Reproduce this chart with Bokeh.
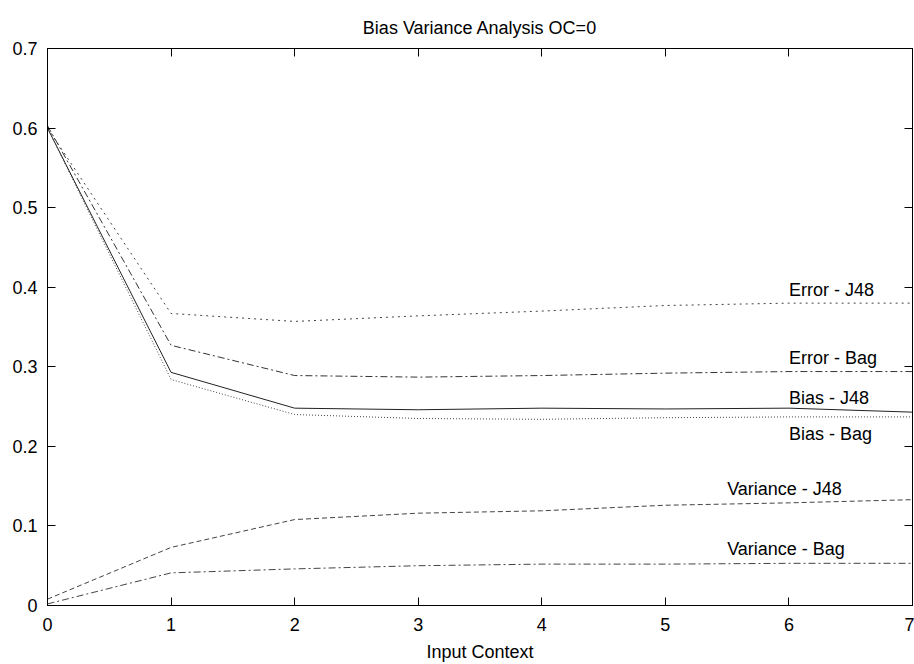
from bokeh.plotting import figure
from bokeh.models import Range1d, LinearAxis, FixedTicker, ColumnDataSource
from bokeh.embed import file_html
from bokeh.resources import INLINE
from bokeh.core.properties import value

# ---- data ----
input_context = [0, 1, 2, 3, 4, 5, 6, 7]
error_j48 = [0.600, 0.367, 0.357, 0.364, 0.370, 0.377, 0.380, 0.380]
error_bag = [0.603, 0.327, 0.289, 0.287, 0.289, 0.292, 0.294, 0.294]
bias_j48 = [0.600, 0.293, 0.248, 0.246, 0.248, 0.247, 0.248, 0.243]
bias_bag = [0.600, 0.284, 0.240, 0.235, 0.234, 0.236, 0.237, 0.237]
variance_j48 = [0.008, 0.073, 0.108, 0.116, 0.119, 0.126, 0.129, 0.133]
variance_bag = [0.002, 0.041, 0.046, 0.050, 0.052, 0.052, 0.053, 0.053]

series_names = ["Error - J48", "Error - Bag", "Bias - J48", "Bias - Bag",
                "Variance - J48", "Variance - Bag"]
label_x = [6.0, 6.0, 6.0, 6.0, 5.5, 5.5]
label_y = [0.396, 0.311, 0.261, 0.215, 0.146, 0.071]

x_ticks = [0, 1, 2, 3, 4, 5, 6, 7]
y_ticks = [0, 0.1, 0.2, 0.3, 0.4, 0.5, 0.6, 0.7]

FONT = "Liberation Sans"

p = figure(width=914, height=664, output_backend="svg", toolbar_location=None,
           x_range=Range1d(0, 7), y_range=Range1d(0, 0.7),
           title="Bias Variance Analysis OC=0",
           min_border_left=47, min_border_right=2, min_border_top=48,
           min_border_bottom=55)
p.grid.visible = False
p.outline_line_color = "black"
p.outline_line_width = 1
p.background_fill_color = "white"
p.border_fill_color = "white"

p.title.align = "center"
p.title.text_font = FONT
p.title.text_font_size = "18px"
p.title.text_font_style = "normal"
p.title.text_color = "black"
p.title.standoff = 22

def style_axis(ax, ticks, show_labels=True):
    ax.ticker = FixedTicker(ticks=ticks)
    ax.major_tick_in = 8
    ax.major_tick_out = 0
    ax.minor_tick_in = 0
    ax.minor_tick_out = 0
    ax.axis_line_color = "black"
    ax.major_tick_line_color = "black"
    ax.major_label_text_font = FONT
    ax.major_label_text_font_size = "18px"
    ax.major_label_text_color = "black"
    if not show_labels:
        ax.major_label_overrides = {t: "" for t in ticks}
        ax.major_label_standoff = 0

xa = p.xaxis[0]
style_axis(xa, x_ticks)
xa.major_label_standoff = 12
xa.axis_label = "Input Context"
xa.axis_label_text_font = FONT
xa.axis_label_text_font_size = "18px"
xa.axis_label_text_font_style = "normal"
xa.axis_label_text_color = "black"
xa.axis_label_standoff = 8

ya = p.yaxis[0]
style_axis(ya, y_ticks)
ya.major_label_overrides = {0: "0"}
ya.major_label_standoff = 10

top = LinearAxis()
style_axis(top, x_ticks, show_labels=False)
p.add_layout(top, "above")
right = LinearAxis()
style_axis(right, y_ticks, show_labels=False)
p.add_layout(right, "right")

src = ColumnDataSource(dict(x=input_context, ej=error_j48, eb=error_bag,
                            bj=bias_j48, bb=bias_bag, vj=variance_j48, vb=variance_bag))

p.line("x", "ej", source=src, line_color="#444444", line_width=1, line_dash="2 4")
p.line("x", "eb", source=src, line_color="#333333", line_width=1, line_dash="7 3 2 3")
p.line("x", "bj", source=src, line_color="#222222", line_width=1)
p.line("x", "bb", source=src, line_color="#444444", line_width=1, line_dash="1 2")
p.line("x", "vj", source=src, line_color="#444444", line_width=1, line_dash="5 3")
p.line("x", "vb", source=src, line_color="#444444", line_width=1, line_dash="7 3 2 3")

lab = ColumnDataSource(dict(x=label_x, y=label_y, t=series_names))
p.text("x", "y", text="t", source=lab, text_font=value(FONT),
       text_font_size="18px", text_align="left", text_baseline="middle",
       text_color="black")

open("out.html", "w").write(file_html(p, INLINE))
